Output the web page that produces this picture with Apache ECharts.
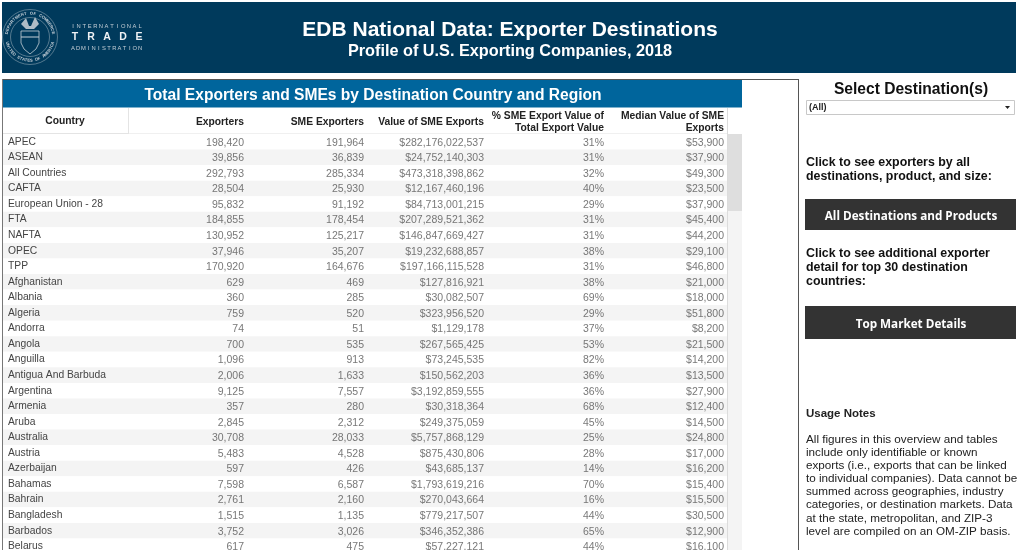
<!DOCTYPE html>
<html lang="en">
<head>
<meta charset="UTF-8">
<title>EDB National Data: Exporter Destinations</title>
<style>
html, body { margin: 0; padding: 0; background: #fff; }
#main { width: 1024px; height: 550px; }
</style>
</head>
<body>
<div id="main"></div>
<script src="https://cdn.jsdelivr.net/npm/echarts@6/dist/echarts.min.js"></script>
<script>
var countries = ['APEC','ASEAN','All Countries','CAFTA','European Union - 28','FTA','NAFTA','OPEC','TPP','Afghanistan','Albania','Algeria','Andorra','Angola','Anguilla','Antigua And Barbuda','Argentina','Armenia','Aruba','Australia','Austria','Azerbaijan','Bahamas','Bahrain','Bangladesh','Barbados','Belarus'];
var columns = ['Exporters','SME Exporters','Value of SME Exports','% SME Export Value of\nTotal Export Value','Median Value of SME\nExports'];
var exporters = [198420,39856,292793,28504,95832,184855,130952,37946,170920,629,360,759,74,700,1096,2006,9125,357,2845,30708,5483,597,7598,2761,1515,3752,617];
var smeExporters = [191964,36839,285334,25930,91192,178454,125217,35207,164676,469,285,520,51,535,913,1633,7557,280,2312,28033,4528,426,6587,2160,1135,3026,475];
var smeValue = [282176022537,24752140303,473318398862,12167460196,84713001215,207289521362,146847669427,19232688857,197166115528,127816921,30082507,323956520,1129178,267565425,73245535,150562203,3192859555,30318364,249375059,5757868129,875430806,43685137,1793619216,270043664,779217507,346352386,57227121];
var smeShare = [31,31,32,40,29,31,31,38,31,38,69,29,37,53,82,36,36,68,45,25,28,14,70,16,44,65,44];
var smeMedian = [53900,37900,49300,23500,37900,45400,44200,29100,46800,21000,18000,51800,8200,21500,14200,13500,27900,12400,14500,24800,17000,16200,15400,15500,30500,12900,16100];

var FONT = '"Liberation Sans", Arial, sans-serif';
var chart = echarts.init(document.getElementById('main'), null, { renderer: 'canvas' });

function num(v) { return v.toLocaleString('en-US'); }
function usd(v) { return '$' + num(v); }
function pct(v) { return v + '%'; }

// one invisible-point series per column, the label is the cell
function columnSeries(idx, values, fmt) {
    return {
        name: columns[idx],
        type: 'scatter',
        symbolSize: 0,
        silent: true,
        clip: false,
        z: 5,
        data: values.map(function (v, i) { return [columns[idx], countries[i], fmt(v)]; }),
        label: {
            show: true,
            position: 'left',
            distance: 0,
            offset: [0, 1],
            align: 'right',
            color: '#555',
            fontFamily: FONT,
            fontSize: 10.5,
            formatter: function (p) { return p.value[2]; }
        }
    };
}

// text with spread out letters for the logo
function spaced(text, x0, x1, y, size, weight, color) {
    var step = (x1 - x0) / (text.length - 1);
    return text.split('').map(function (c, i) {
        return { type: 'text', x: x0 + i * step, y: y, silent: true, z: 3,
            style: { text: c, fill: color, font: weight + ' ' + size + 'px ' + FONT, align: 'center', verticalAlign: 'middle' } };
    });
}

// seal lettering round a circle, bottom arc runs the other way so it reads left to right
function ring(text, cx, cy, r, from, to, bottom) {
    var step = (to - from) / (text.length - 1);
    return text.split('').map(function (c, i) {
        var a = (from + i * step) * Math.PI / 180;
        var el = { type: 'text', silent: true, z: 3,
            style: { text: c, fill: '#c3ced6', font: 'bold 4.2px ' + FONT, align: 'center', verticalAlign: 'middle' } };
        if (bottom) {
            el.x = cx + r * Math.sin(a);
            el.y = cy + r * Math.cos(a);
            el.rotation = a;
        } else {
            el.x = cx + r * Math.sin(a);
            el.y = cy - r * Math.cos(a);
            el.rotation = -a;
        }
        return el;
    });
}

function txt(x, y, text, size, weight, color, align, lineHeight, family) {
    return { type: 'text', x: x, y: y, silent: true, z: 3,
        style: { text: text, fill: color, font: weight + ' ' + size + 'px ' + (family || FONT), align: align || 'left',
            verticalAlign: 'middle', lineHeight: lineHeight } };
}
function box(x, y, w, h, fill, z) {
    return { type: 'rect', silent: true, z: z || 1, shape: { x: x, y: y, width: w, height: h }, style: { fill: fill } };
}
function seal(type, shape, style) {
    return { type: type, silent: true, z: 3, shape: shape, style: style };
}

var graphics = [
    box(2, 2, 1014, 71, '#003a5c'),
    // frame round the table
    box(2, 79, 797, 1, '#555'), box(2, 79, 1, 471, '#777'), box(798, 79, 1, 471, '#555'),
    box(3, 80, 739, 28, '#00659c'),
    box(3, 107, 739, 1, '#7fb2cd'),
    txt(373, 95.5, 'Total Exporters and SMEs by Destination Country and Region', 15.6, 'bold', '#fff', 'center'),
    box(128, 108, 1, 26, '#e4e4e4'), box(3, 133, 125, 1, '#e4e4e4'), box(129, 133, 598, 1, '#f0f0f0'),
    txt(65, 121.5, 'Country', 10.3, 'bold', '#222', 'center'),
    // scrollbar
    box(727, 108, 1, 442, '#dcdcdc', 6),
    box(728, 134, 14, 416, '#f4f4f4'),
    box(728, 134, 14, 77, '#dedede', 2),
    txt(510, 30.5, 'EDB National Data: Exporter Destinations', 21, 'bold', '#fff', 'center'),
    txt(510, 51.5, 'Profile of U.S. Exporting Companies, 2018', 16.25, 'bold', '#fff', 'center'),
    // seal
    seal('circle', { cx: 30, cy: 37, r: 27.5 }, { fill: 'none', stroke: '#a9b8c2', lineWidth: 0.5 }),
    seal('circle', { cx: 30, cy: 37, r: 19.5 }, { fill: 'none', stroke: '#a9b8c2', lineWidth: 0.5 }),
    seal('polygon', { points: [[21,31],[39,31],[39,43],[36,49],[30,54],[24,49],[21,43]] }, { fill: 'none', stroke: '#c3ced6', lineWidth: 0.8 }),
    seal('polygon', { points: [[21,24],[26,18],[29,26],[31,26],[35,17],[39,24],[34,29],[26,29]] }, { fill: '#aebcc6' }),
    seal('polyline', { points: [[21,37],[39,37]] }, { stroke: '#c3ced6', lineWidth: 1 })
];
graphics = graphics
    .concat(ring('DEPARTMENT OF COMMERCE', 30, 37, 23.5, -80, 80, false))
    .concat(ring('UNITED STATES OF AMERICA', 30, 37, 23.5, -75, 75, true))
    .concat(spaced('INTERNATIONAL', 73, 140, 26, 5.8, 'normal', '#c3ced6'))
    .concat(spaced('TRADE', 75, 139, 37, 10.5, 'bold', '#eef1f4'))
    .concat(spaced('ADMINISTRATION', 73, 140, 48, 5.8, 'normal', '#c3ced6'))
    .concat([
        // side panel
        txt(911, 89.5, 'Select Destination(s)', 15.6, 'bold', '#111', 'center'),
        { type: 'rect', silent: true, z: 2, shape: { x: 806.5, y: 100.5, width: 208, height: 14 }, style: { fill: '#fff', stroke: '#c8c8c8', lineWidth: 1 } },
        txt(809, 107.5, '(All)', 9, 'bold', '#222'),
        seal('polygon', { points: [[1005, 106], [1010, 106], [1007.5, 109]] }, { fill: '#222' }),
        txt(806, 169.5, 'Click to see exporters by all\ndestinations, product, and size:', 12.4, 'bold', '#111', 'left', 14.4),
        box(805, 199, 211, 31, '#333'),
        txt(911, 217, 'All Destinations and Products', 11.7, 'bold', '#fff', 'center', null, '"Open Sans", sans-serif'),
        txt(806, 267.5, 'Click to see additional exporter\ndetail for top 30 destination\ncountries:', 12.4, 'bold', '#111', 'left', 14.4),
        box(805, 306, 211, 33, '#333'),
        txt(911, 325, 'Top Market Details', 11.7, 'bold', '#fff', 'center', null, '"Open Sans", sans-serif'),
        txt(806, 413.5, 'Usage Notes', 11.5, 'bold', '#222'),
        txt(806, 485.5, 'All figures in this overview and tables\ninclude only identifiable or known\nexports (i.e., exports that can be linked\nto individual companies). Data cannot be\nsummed across geographies, industry\ncategories, or destination markets. Data\nat the state, metropolitan, and ZIP-3\nlevel are compiled on an OM-ZIP basis.', 11.7, 'normal', '#222', 'left', 13.15)
    ]);

var option = {
    animation: false,
    backgroundColor: '#fff',
    textStyle: { fontFamily: FONT },
    // band centres sit on the right edge of each table column
    grid: { left: 184, top: 134, width: 600, height: 420, outerBoundsMode: 'none' },
    xAxis: {
        type: 'category',
        position: 'top',
        data: columns,
        z: 4,
        axisLine: { show: false },
        axisTick: { show: false },
        splitLine: { show: false },
        axisLabel: {
            interval: 0,
            align: 'right',
            verticalAlign: 'middle',
            margin: 12,
            lineHeight: 12,
            color: '#222',
            fontWeight: 'bold',
            fontSize: 10.3,
            fontFamily: FONT
        }
    },
    yAxis: {
        type: 'category',
        inverse: true,
        data: countries,
        z: 4,
        axisLine: { show: false },
        axisTick: { show: false },
        splitLine: { show: false },
        axisLabel: {
            interval: 0,
            align: 'left',
            margin: 176,
            padding: [2, 0, 0, 0],
            color: '#444',
            fontSize: 10.3,
            fontFamily: FONT
        }
    },
    graphic: { elements: graphics },
    series: [
        {
            // row stripes
            type: 'custom',
            silent: true,
            clip: false,
            z: 1,
            data: countries.map(function (c, i) { return [columns[0], c, i]; }),
            renderItem: function (params, api) {
                var y = api.coord([api.value(0), api.value(1)])[1];
                var h = api.size([0, 1])[1];
                return {
                    type: 'rect',
                    shape: { x: 3, y: y - h / 2, width: 724, height: h },
                    style: { fill: api.value(2) % 2 ? '#f4f4f4' : '#fff' }
                };
            }
        },
        columnSeries(0, exporters, num),
        columnSeries(1, smeExporters, num),
        columnSeries(2, smeValue, usd),
        columnSeries(3, smeShare, pct),
        columnSeries(4, smeMedian, usd)
    ]
};
chart.setOption(option);
</script>
</body>
</html>
